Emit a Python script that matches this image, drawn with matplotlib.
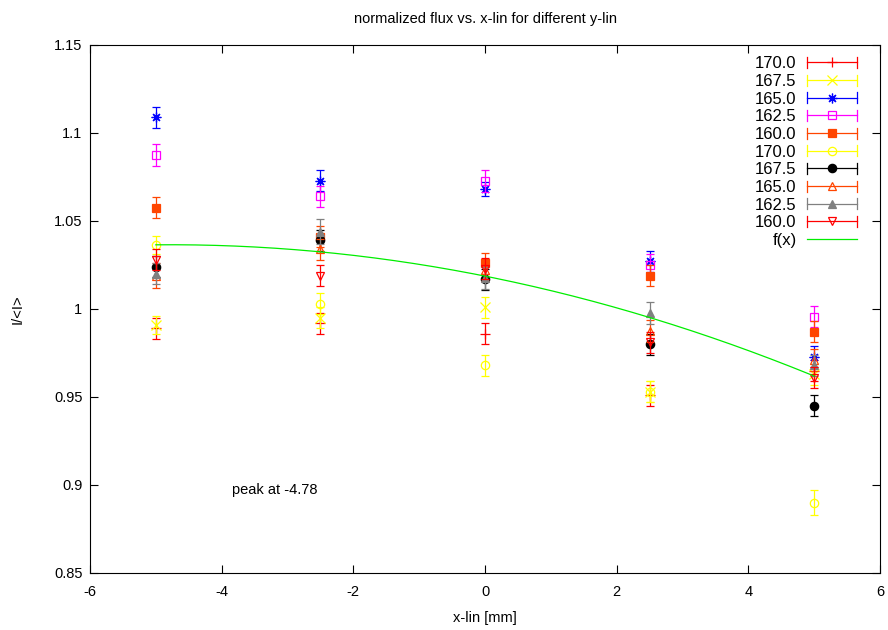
import numpy as np
import matplotlib
matplotlib.use("Agg")
import matplotlib.pyplot as plt
from matplotlib.legend_handler import HandlerBase
from matplotlib.lines import Line2D

plt.rcParams['font.family'] = ['Liberation Sans', 'DejaVu Sans']
plt.rcParams['axes.unicode_minus'] = False

x_lin = [-5.0, -2.5, 0.0, 2.5, 5.0]
labels = ['170.0', '167.5', '165.0', '162.5', '160.0',
          '170.0', '167.5', '165.0', '162.5', '160.0']
colors = ['#ff0000', '#ffff00', '#0000ff', '#ff00ff', '#ff4500',
          '#ffff00', '#000000', '#ff4500', '#808080', '#ff0000']
markers = ['+', 'x', (8, 2, 0), 's', 's', 'o', 'o', '^', '^', 'v']
filled = [True, True, True, False, True, False, True, False, True, False]

values = [
    [0.989, 0.992, 0.986, 0.951, 0.965],
    [0.991, 0.995, 1.001, 0.953, 0.963],
    [1.109, 1.073, 1.068, 1.027, 0.973],
    [1.0875, 1.064, 1.0727, 1.025, 0.9955],
    [1.0575, 1.041, 1.026, 1.019, 0.987],
    [1.0365, 1.003, 0.968, 0.953, 0.890],
    [1.024, 1.039, 1.017, 0.980, 0.945],
    [1.019, 1.034, 1.022, 0.9875, 0.971],
    [1.020, 1.044, 1.0176, 0.9977, 0.968],
    [1.028, 1.019, 1.023, 0.981, 0.961],
]
errors = [
    [0.006, 0.006, 0.006, 0.006, 0.006],
    [0.005, 0.006, 0.006, 0.006, 0.006],
    [0.006, 0.006, 0.004, 0.006, 0.006],
    [0.006, 0.006, 0.006, 0.006, 0.006],
    [0.006, 0.006, 0.006, 0.006, 0.006],
    [0.005, 0.006, 0.006, 0.006, 0.007],
    [0.006, 0.006, 0.006, 0.006, 0.006],
    [0.007, 0.006, 0.006, 0.006, 0.006],
    [0.006, 0.007, 0.006, 0.006, 0.006],
    [0.006, 0.006, 0.006, 0.006, 0.006],
]

# quadratic fit f(x) = a*(x - x0)^2 + c
fit_a = -0.00078
fit_x0 = -4.78
fit_c = 1.0365


class HBarHandler(HandlerBase):
    def create_artists(self, legend, orig_handle, xdescent, ydescent,
                       width, height, fontsize, trans):
        c = orig_handle.get_color()
        y = height / 2 - ydescent
        x0, x1 = -xdescent, width - xdescent
        cap = 4
        arts = [Line2D([x0, x1], [y, y], color=c, lw=0.9),
                Line2D([x0, x0], [y - cap, y + cap], color=c, lw=0.9),
                Line2D([x1, x1], [y - cap, y + cap], color=c, lw=0.9),
                Line2D([(x0 + x1) / 2], [y], marker=orig_handle.get_marker(),
                       color=c, mfc=orig_handle.get_markerfacecolor(),
                       mec=c, ms=orig_handle.get_markersize(), mew=0.9)]
        for a in arts:
            a.set_transform(trans)
        return arts


fig = plt.figure(figsize=(8.88, 6.3), dpi=100)
ax = fig.add_axes([0.1014, 0.0905, 0.8896, 0.8381])

handles = []
for lab, col, mk, fl, v, e in zip(labels, colors, markers, filled, values, errors):
    ms = 7 if mk in ('+', 'x') or isinstance(mk, tuple) else 6
    ax.errorbar(x_lin, v, yerr=e, fmt='none', ecolor=col, elinewidth=0.9,
                capsize=3, capthick=0.9)
    ax.plot(x_lin, v, ls='none', marker=mk, color=col, ms=ms,
            mfc=col if fl else 'none', mec=col, mew=0.9)
    handles.append(Line2D([], [], color=col, marker=mk, ms=ms,
                          mfc=col if fl else 'none'))

xf = np.linspace(-5, 5, 200)
fline, = ax.plot(xf, fit_a * (xf - fit_x0) ** 2 + fit_c, color='#00ee00', lw=0.9)

ax.set_xlim(-6, 6)
ax.set_ylim(0.85, 1.15)
ax.set_xticks([-6, -4, -2, 0, 2, 4, 6])
ax.set_yticks([0.85, 0.9, 0.95, 1.0, 1.05, 1.1, 1.15])
ax.set_yticklabels(['0.85', '0.9', '0.95', '1', '1.05', '1.1', '1.15'])
ax.tick_params(direction='in', top=True, right=True, labelsize=10.5, length=6)
ax.tick_params(axis='x', pad=9)
ax.tick_params(axis='y', pad=5.5)
ax.set_xlabel('x-lin [mm]', fontsize=10.5, labelpad=8)
ax.set_ylabel('I/<I>', fontsize=10.5, labelpad=21)
ax.set_title('normalized flux vs. x-lin for different y-lin', fontsize=10.5, pad=16)
ax.text(-3.84, 0.897, 'peak at -4.78', fontsize=10.5, va='center')

leg = ax.legend(handles + [fline], labels + ['f(x)'],
                handler_map={h: HBarHandler() for h in handles},
                loc='upper right', bbox_to_anchor=(1, 1 + 12 / 528),
                frameon=False, markerfirst=False,
                fontsize=12, handlelength=3.0, labelspacing=0.16,
                borderaxespad=1.0, handletextpad=0.6)
for t in leg.get_texts():
    t.set_ha('right')
leg._legend_box.align = 'right'

fig.savefig('out.png', dpi=100)
